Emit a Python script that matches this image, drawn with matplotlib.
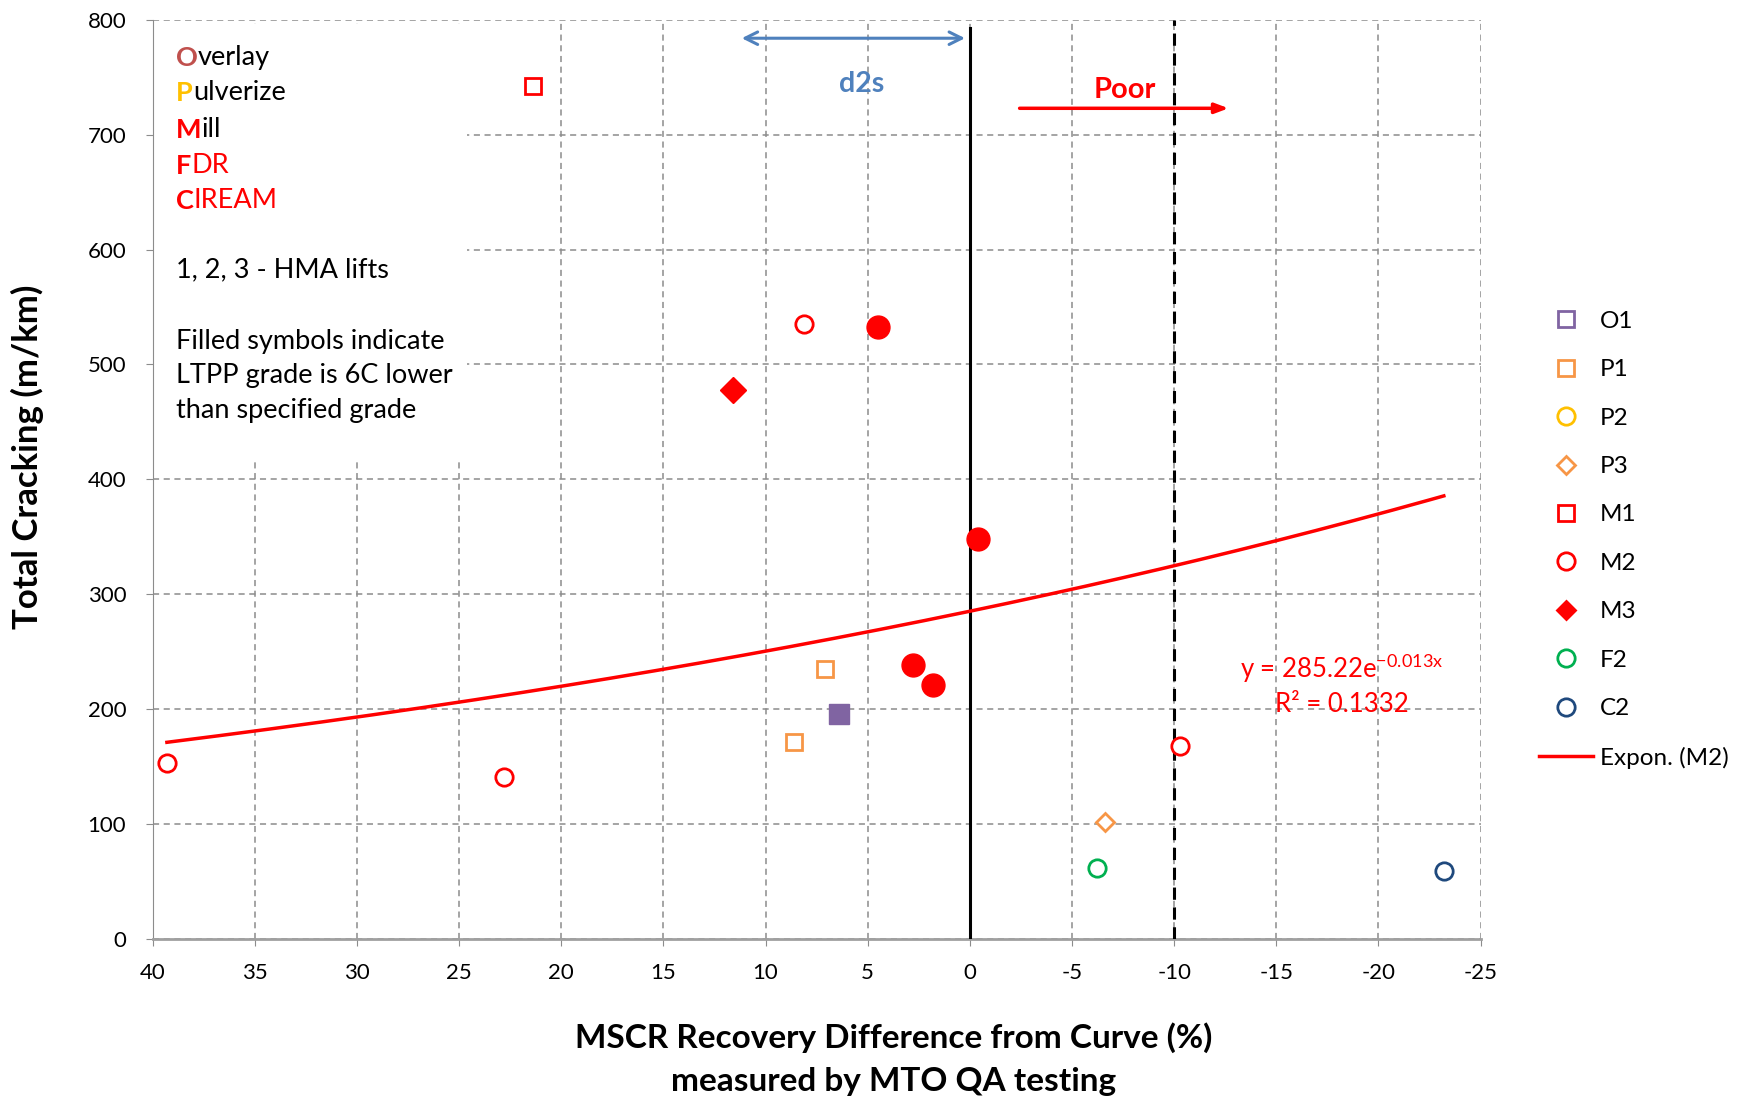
import numpy as np
import matplotlib
matplotlib.use('Agg')
import matplotlib.pyplot as plt
from matplotlib.patches import Rectangle

plt.rcParams['font.family'] = ['Lato', 'DejaVu Sans']
plt.rcParams['mathtext.default'] = 'regular'
plt.rcParams['axes.unicode_minus'] = False

# series: open markers and filled markers (filled = LTPP grade 6C lower)
series = ['O1', 'P1', 'P2', 'P3', 'M1', 'M2', 'M3', 'F2', 'C2']
open_x = {'O1': [], 'P1': [7.1, 8.6], 'P2': [], 'P3': [-6.6], 'M1': [21.4],
          'M2': [39.3, 22.8, 8.1, -10.3], 'M3': [], 'F2': [-6.2], 'C2': [-23.2]}
open_y = {'O1': [], 'P1': [235, 171], 'P2': [], 'P3': [102], 'M1': [742],
          'M2': [153, 141, 535, 168], 'M3': [], 'F2': [62], 'C2': [59]}
filled_x = {'O1': [6.4], 'M2': [4.5, -0.4, 2.8, 1.8], 'M3': [11.6]}
filled_y = {'O1': [196], 'M2': [533, 348, 238, 221], 'M3': [478]}

# exponential trendline of M2: y = a*exp(b*x)
fit_a = 285.22
fit_b = -0.013
fit_r2 = 0.1332
fit_x_range = [39.3, -23.2]

d2s_line = 0
poor_line = -10

colors = {'O1': '#8064A2', 'P1': '#F79646', 'P2': '#FFC000', 'P3': '#F79646',
          'M1': '#FF0000', 'M2': '#FF0000', 'M3': '#FF0000', 'F2': '#00B050',
          'C2': '#1F497D'}
markers = {'O1': 's', 'P1': 's', 'P2': 'o', 'P3': 'D', 'M1': 's', 'M2': 'o',
           'M3': 'D', 'F2': 'o', 'C2': 'o'}
msize = {'s': 12, 'o': 12.5, 'D': 9}

fig = plt.figure(figsize=(17.46, 11.02), dpi=100)
ax = fig.add_axes([0.0874, 0.148, 0.7606, 0.834])

handles = []
for s in series:
    m = markers[s]
    h, = ax.plot(open_x[s], open_y[s], linestyle='none', marker=m, ms=msize[m],
                 mfc='white', mec=colors[s], mew=2, label=s, zorder=5)
    if s in filled_x:
        ax.plot(filled_x[s], filled_y[s], linestyle='none', marker=m,
                ms=msize[m] + 4 if m != 's' else msize[m] + 2,
                mfc=colors[s], mec=colors[s], mew=1, zorder=5)
    handles.append(h)
# M3 legend shows the filled diamond
handles[6].set_markerfacecolor(colors['M3'])

xf = np.linspace(fit_x_range[0], fit_x_range[1], 200)
fl, = ax.plot(xf, fit_a * np.exp(fit_b * xf), color='#FF0000', lw=2.5,
              label='Expon. (M2)', zorder=4)
handles.append(fl)

ax.axvline(d2s_line, ymax=0.991, color='black', lw=2.2, zorder=3)
ax.axvline(poor_line, color='black', lw=2.2, ls=(0, (4, 2.5)), zorder=3)

ax.set_xlim(40, -25)
ax.set_ylim(0, 800)
ax.set_xticks(np.arange(40, -26, -5))
ax.set_yticks(np.arange(0, 801, 100))
ax.set_axisbelow(True)
ax.grid(True, color='#8C8C8C', ls=(0, (4, 3)), lw=1.1)
for sp in ['top', 'right']:
    ax.spines[sp].set_visible(False)
ax.spines['left'].set_color('#8C8C8C')
ax.spines['bottom'].set_color('#A0A0A0')
ax.spines['bottom'].set_linewidth(2)
ax.tick_params(axis='both', colors='#8C8C8C', labelcolor='black', labelsize=16,
               length=5, direction='out')
ax.tick_params(axis='y', pad=14)
ax.tick_params(axis='x', pad=12)

ax.set_ylabel('Total Cracking (m/km)', fontsize=25, fontweight='bold')
ax.yaxis.set_label_coords(-0.082, 0.525)
fig.text(0.512, 0.039, 'MSCR Recovery Difference from Curve (%)\nmeasured by MTO QA testing',
         ha='center', va='center', fontsize=24, fontweight='bold', linespacing=1.6)

# white text box in the upper left
ax.add_patch(Rectangle((0.0, 0.519), 0.237, 0.476, transform=ax.transAxes,
                       facecolor='white', edgecolor='none', zorder=1))

fs = 19.5
first = [('O', '#C0504D', 'verlay', 'black', 'normal'),
         ('P', '#FFC000', 'ulverize', 'black', 'normal'),
         ('M', '#FF0000', 'ill', 'black', 'normal'),
         ('F', '#FF0000', 'DR', '#FF0000', 'normal'),
         ('C', '#FF0000', 'IREAM', '#FF0000', 'normal')]
line_y = [767, 736, 704, 673, 642]
for (c, cc, rest, rc, rw), yy in zip(first, line_y):
    t = ax.text(38.85, yy, c, color=cc, fontsize=fs, fontweight='bold',
                va='center', ha='left', zorder=6)
    ax.annotate(rest, xy=(1, 0), xycoords=t, va='bottom', ha='left',
                color=rc, fontsize=fs, fontweight=rw, zorder=6)
ax.text(38.85, 582, '1, 2, 3 - HMA lifts', fontsize=fs, va='center', zorder=6)
ax.text(38.85, 531, 'Filled symbols indicate\nLTPP grade is 6C lower\nthan specified grade',
        fontsize=fs, va='top', linespacing=1.47, zorder=6)

# arrows and notes
ax.annotate('', xy=(11.3, 784), xytext=(0.1, 784),
            arrowprops=dict(arrowstyle='<->,head_length=0.9,head_width=0.45',
                            color='#4F81BD', lw=2.2))
ax.text(5.3, 744, 'd2s', color='#4F81BD', fontsize=20.5, fontweight='bold',
        ha='center', va='center')
ax.annotate('', xy=(-12.8, 723), xytext=(-2.3, 723),
            arrowprops=dict(arrowstyle='-|>,head_length=0.8,head_width=0.3',
                            color='#FF0000', lw=2.5))
ax.text(-7.6, 739, 'Poor', color='#FF0000', fontsize=21, fontweight='bold',
        ha='center', va='center')

ax.text(-18.2, 235, 'y = 285.22e$^{-0.013x}$', color='#FF0000', fontsize=18.5,
        ha='center', va='center')
ax.text(-18.2, 204, 'R² = %.4f' % fit_r2, color='#FF0000', fontsize=18.5,
        ha='center', va='center')

fig.legend(handles=handles, loc='upper left', bbox_to_anchor=(0.876, 0.727),
           frameon=False, fontsize=17.5, labelspacing=1.13, handlelength=2.2,
           handletextpad=0.3, borderaxespad=0)

fig.savefig('out.png', dpi=100)
